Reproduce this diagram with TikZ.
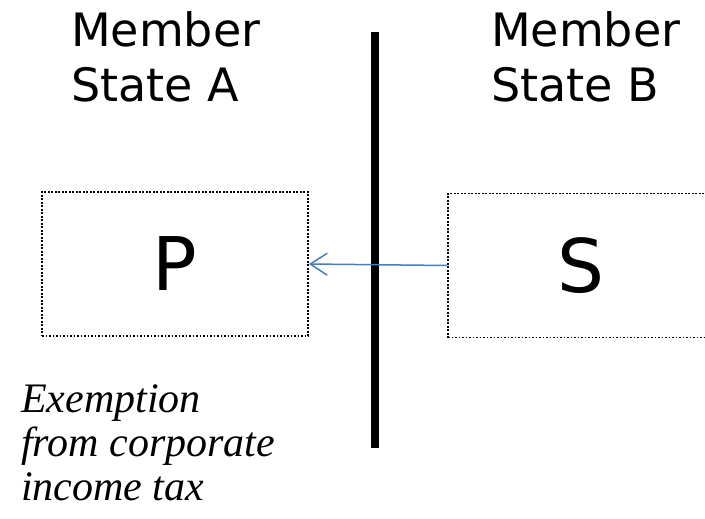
\documentclass[tikz,border=0pt]{standalone}
\usepackage{fontspec}
\setmainfont{DejaVu Sans}
\newfontfamily\notefont{Liberation Serif}
\usetikzlibrary{arrows.meta}
\definecolor{flowblue}{HTML}{4A7EBB}
\tikzset{
  entity/.style={draw=black, line width=1.8pt, dash pattern=on 1.8pt off 1.7pt,
    minimum width=266pt, minimum height=144pt, inner sep=0pt,
    font=\fontsize{74}{74}\selectfont},
  statelabel/.style={anchor=base west, align=left, inner sep=0pt,
    font=\fontsize{46}{55}\selectfont},
  notelabel/.style={anchor=base west, align=left, inner sep=0pt,
    font=\notefont\itshape\fontsize{42}{44}\selectfont},
  flow/.style={draw=flowblue, line width=1.5pt,
    -{Straight Barb[length=17pt,width=22pt,line width=1.5pt]}},
  border/.style={line width=8pt, draw=black}
}
\begin{document}
\begin{tikzpicture}[x=1pt,y=1pt]
  \useasboundingbox (0,0) rectangle (705,-519);
  \clip (0,0) rectangle (705,-519);

  % country labels (anchored at the baseline of the last line)
  \node[statelabel] (stateA) at (71,-102) {Member\\State A};
  \node[statelabel] (stateB) at (491,-102) {Member\\State B};

  % the border between the two states
  \coordinate (bordertop) at (375,-32);
  \coordinate (borderbot) at (375,-448);
  \draw[border] (bordertop) -- (borderbot);

  % parent and subsidiary
  \node[entity] (P) at (175,-264) {P};
  \node[entity] (S) at (581,-265.5) {S};

  % dividend flow
  \draw[flow] (S.west) -- (P.east);

  % note
  \node[notelabel] (note) at (21,-500)
    {Exemption\\from corporate\\income tax};
\end{tikzpicture}
\end{document}
